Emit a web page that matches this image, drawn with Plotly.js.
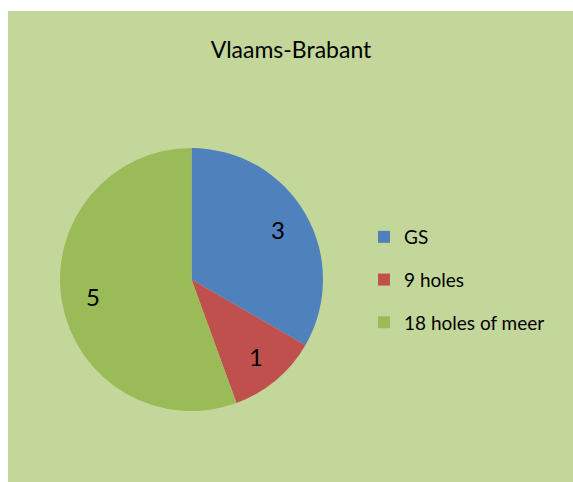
<!DOCTYPE html>
<html>
<head>
<meta charset="utf-8">
<script src="https://cdn.plot.ly/plotly-3.0.1.min.js"></script>
<style>
  html, body { margin: 0; padding: 0; background: #ffffff; }
  #panel { position: absolute; left: 8px; top: 11px; width: 565px; height: 471px; background: #C4D79B; }
  #chart { position: absolute; left: 0; top: 0; width: 573px; height: 482px; }
</style>
</head>
<body>
<div id="panel"></div>
<div id="chart"></div>
<script>
const chartTitle = "Vlaams-Brabant";
const categories = ["GS", "9 holes", "18 holes of meer"];
const counts = [3, 1, 5];
const sliceColors = ["#4F81BD", "#C0504D", "#9BBB59"];

const FONT = "Lato, 'Noto Sans', sans-serif";
const W = 573, H = 482;
const DOMAIN = { x: [60 / W, 323 / W], y: [71 / H, 334 / H] };
const LABEL_R = 0.76;

// pie geometry derived from the domain (plotly uses min(width,height)/2 as radius)
const cxPx = (DOMAIN.x[0] + DOMAIN.x[1]) / 2 * W;
const cyPx = (1 - (DOMAIN.y[0] + DOMAIN.y[1]) / 2) * H;
const radPx = Math.min((DOMAIN.x[1] - DOMAIN.x[0]) * W, (DOMAIN.y[1] - DOMAIN.y[0]) * H) / 2;

// mid angle of each slice (clockwise from 12 o'clock), derived from the counts
const total = counts.reduce((a, b) => a + b, 0);
const annotations = [];
let cum = 0;
counts.forEach(v => {
  const a = (cum + v / 2) / total * 2 * Math.PI;
  cum += v;
  const px = cxPx + radPx * LABEL_R * Math.sin(a);
  const py = cyPx - radPx * LABEL_R * Math.cos(a);
  annotations.push({
    xref: "paper", yref: "paper",
    x: px / W, y: 1 - py / H,
    xanchor: "center", yanchor: "middle",
    text: String(v), showarrow: false,
    font: { family: FONT, size: 24, color: "#000000" }
  });
});

const data = [{
  type: "pie",
  labels: categories,
  values: counts,
  sort: false,
  direction: "clockwise",
  rotation: 0,
  marker: { colors: sliceColors, line: { width: 0 } },
  textinfo: "none",
  hoverinfo: "skip",
  showlegend: false,
  domain: DOMAIN
}];

categories.forEach((c, i) => {
  data.push({
    type: "scatterpolar",
    subplot: "polar",
    mode: "markers",
    r: [null],
    theta: [null],
    name: c,
    legendgroup: "g" + i,
    marker: { symbol: "square", size: 12, color: sliceColors[i] },
    hoverinfo: "skip",
    showlegend: true
  });
});

const layout = {
  width: W,
  height: H,
  margin: { l: 0, r: 0, t: 0, b: 0 },
  paper_bgcolor: "rgba(0,0,0,0)",
  plot_bgcolor: "rgba(0,0,0,0)",
  font: { family: FONT, color: "#000000" },
  title: {
    text: chartTitle,
    font: { family: FONT, size: 23, color: "#000000" },
    x: 291 / W, xanchor: "center", xref: "container",
    y: 1 - 50 / H, yanchor: "middle", yref: "container"
  },
  polar: {
    domain: DOMAIN,
    bgcolor: "rgba(0,0,0,0)",
    radialaxis: { range: [0, 1], visible: false, showgrid: false },
    angularaxis: { rotation: 90, direction: "clockwise", visible: false, showgrid: false }
  },
  annotations: annotations,
  showlegend: true,
  legend: {
    x: 364 / W, xanchor: "left",
    y: 1 - 280 / H, yanchor: "middle",
    traceorder: "grouped",
    tracegroupgap: 15,
    bgcolor: "rgba(0,0,0,0)",
    borderwidth: 0,
    font: { family: FONT, size: 19, color: "#000000" }
  }
};

Plotly.newPlot("chart", data, layout, { displayModeBar: false, staticPlot: true });
</script>
</body>
</html>
